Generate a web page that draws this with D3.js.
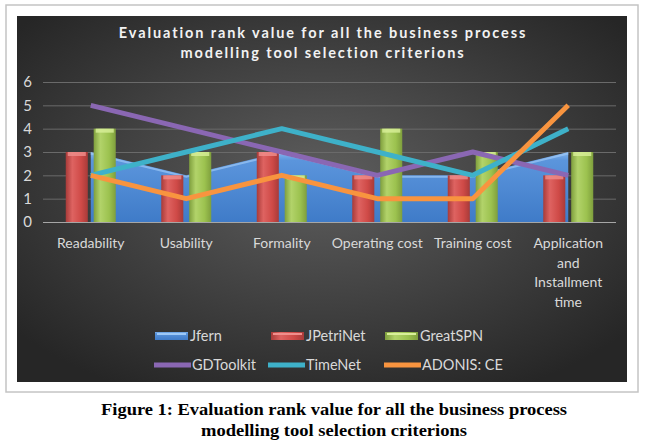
<!DOCTYPE html>
<html>
<head>
<meta charset="utf-8">
<script src="https://cdn.jsdelivr.net/npm/d3@7"></script>
<style>
  body { margin: 0; background: #fff; }
  text { font-family: Lato, "Open Sans", sans-serif; }
</style>
</head>
<body>
<div id="chart"></div>
<script>
// data
var categories = ["Readability", "Usability", "Formality", "Operating cost", "Training cost", "Application and Installment time"];
var jfern     = [3, 2, 3, 2, 2, 3];
var jpetrinet = [3, 2, 3, 2, 2, 2];
var greatspn  = [4, 3, 2, 4, 3, 3];
var gdtoolkit = [5, 4, 3, 2, 3, 2];
var timenet   = [2, 3, 4, 3, 2, 4];
var adonis    = [2, 1, 2, 1, 1, 5];
var yTicks    = [0, 1, 2, 3, 4, 5, 6];

var width = 646, height = 445;
var svg = d3.select("#chart").append("svg").attr("width", width).attr("height", height);
var defs = svg.append("defs");

// background radial
var bg = defs.append("radialGradient").attr("id", "bg")
    .attr("cx", "50%").attr("cy", "45%").attr("r", "65%");
bg.append("stop").attr("offset", "0%").attr("stop-color", "#5e5e5e");
bg.append("stop").attr("offset", "100%").attr("stop-color", "#262626");

function barGrad(id, dark, mid, light) {
    var g = defs.append("linearGradient").attr("id", id).attr("x1", "0").attr("x2", "1").attr("y1", "0").attr("y2", "0");
    g.append("stop").attr("offset", "0%").attr("stop-color", dark);
    g.append("stop").attr("offset", "30%").attr("stop-color", light);
    g.append("stop").attr("offset", "70%").attr("stop-color", mid);
    g.append("stop").attr("offset", "100%").attr("stop-color", dark);
}
barGrad("gRed", "#a83b39", "#cf4a47", "#de6361");
barGrad("gGreen", "#7f9f3d", "#9cc24f", "#b2d36a");

var areaG = defs.append("linearGradient").attr("id", "gBlue").attr("x1", "0").attr("x2", "0").attr("y1", "0").attr("y2", "1");
areaG.append("stop").attr("offset", "0%").attr("stop-color", "#86b8f0");
areaG.append("stop").attr("offset", "12%").attr("stop-color", "#5b95dc");
areaG.append("stop").attr("offset", "100%").attr("stop-color", "#3f7bc8");

// frame + panel
svg.append("rect").attr("x", 6).attr("y", 5).attr("width", 632).attr("height", 387)
    .attr("fill", "#fff").attr("stroke", "#c4c4c4").attr("stroke-width", 1.5);
svg.append("rect").attr("x", 17).attr("y", 16).attr("width", 610).attr("height", 366)
    .attr("fill", "url(#bg)");

// title
var title = svg.append("text").attr("text-anchor", "middle").attr("fill", "#f2f2f2")
    .style("font-weight", "bold").style("font-size", "14.5px").style("letter-spacing", "1.9px");
title.append("tspan").attr("x", 323).attr("y", 38).text("Evaluation rank value for all the business process");
title.append("tspan").attr("x", 323).attr("y", 58).text("modelling tool selection criterions");

// scales
var x = d3.scaleBand().domain(categories).range([43, 616]);
var cx = function(i) { return x(categories[i]) + x.bandwidth() / 2; };
var y = d3.scaleLinear().domain([0, 6]).range([222, 82]);
var inner = d3.scaleBand().domain(["JPetriNet", "GreatSPN"]).range([-25, 25]).paddingInner(0.21);

// grid
var grid = svg.append("g").attr("transform", "translate(43,0)")
    .call(d3.axisLeft(y).tickValues(yTicks).tickSize(-573).tickFormat(""));
grid.select(".domain").remove();
grid.selectAll("line").attr("stroke", function(d) { return d === 0 ? "#a6a6a6" : "#6a6a6a"; })
    .attr("stroke-width", function(d) { return d === 0 ? 1.2 : 1; });

var yAxis = svg.append("g").attr("transform", "translate(32,0)")
    .call(d3.axisLeft(y).tickValues(yTicks).tickFormat(d3.format("d")).tickSize(0).tickPadding(0));
yAxis.select(".domain").remove();
yAxis.selectAll("text").attr("fill", "#d9d9d9").style("font-size", "15px").style("font-family", "Lato, sans-serif");

// Jfern area
var area = d3.area().x(function(d, i) { return cx(i); }).y0(y(0)).y1(function(d) { return y(d); });
svg.append("path").datum(jfern).attr("d", area).attr("fill", "url(#gBlue)");
svg.append("path").datum(jfern).attr("fill", "none")
    .attr("d", d3.line().x(function(d, i) { return cx(i); }).y(function(d) { return y(d) + 1.5; }))
    .attr("stroke", "#9cc8f7").attr("stroke-width", 2).attr("opacity", 0.7);

// bars
var barSeries = [
    { name: "JPetriNet", values: jpetrinet, fill: "url(#gRed)", top: "#f08f8c" },
    { name: "GreatSPN", values: greatspn, fill: "url(#gGreen)", top: "#d9f09a" }
];
barSeries.forEach(function(s) {
    var g = svg.append("g");
    g.selectAll("rect.bar").data(s.values).enter().append("rect").attr("class", "bar")
        .attr("x", function(d, i) { return cx(i) + inner(s.name); })
        .attr("y", function(d) { return y(d); })
        .attr("width", inner.bandwidth())
        .attr("height", function(d) { return y(0) - y(d); })
        .attr("fill", s.fill);
    g.selectAll("rect.cap").data(s.values).enter().append("rect").attr("class", "cap")
        .attr("x", function(d, i) { return cx(i) + inner(s.name) + 2; })
        .attr("y", function(d) { return y(d); })
        .attr("width", inner.bandwidth() - 4)
        .attr("height", 4)
        .attr("fill", s.top).attr("opacity", 0.8);
});

// lines
var lineSeries = [
    { name: "GDToolkit", values: gdtoolkit, color: "#8a67b3" },
    { name: "TimeNet", values: timenet, color: "#3eb1c9" },
    { name: "ADONIS: CE", values: adonis, color: "#f8943f" }
];
var line = d3.line().x(function(d, i) { return cx(i); }).y(function(d) { return y(d); });
lineSeries.forEach(function(s) {
    svg.append("path").datum(s.values).attr("d", line).attr("fill", "none")
        .attr("stroke", s.color).attr("stroke-width", 5).attr("stroke-linejoin", "round");
});

// category labels
var xAxis = svg.append("g").attr("transform", "translate(0,222)")
    .call(d3.axisBottom(x).tickSize(0).tickPadding(0));
xAxis.select(".domain").remove();
xAxis.selectAll("text").attr("fill", "#d9d9d9").style("font-size", "14px")
    .style("font-family", "Lato, sans-serif").attr("y", 26).attr("dy", 0)
    .each(function(d) {
        var t = d3.select(this), words = d.split(" "), lines = [], cur = [];
        words.forEach(function(w) {
            cur.push(w);
            t.text(cur.join(" "));
            if (this.getComputedTextLength() > 92 && cur.length > 1) {
                cur.pop(); lines.push(cur.join(" ")); cur = [w];
            }
        }, this);
        lines.push(cur.join(" "));
        if (lines.length > 1) { lines = words; }
        t.text(null);
        lines.forEach(function(l, k) {
            t.append("tspan").attr("x", 0).attr("dy", k === 0 ? 0 : 19.5).text(l);
        });
    });

// legend
var legendItems = [
    { name: "Jfern", type: "box", fill: "url(#gBlue)", hi: "#9cc8f7", x: 155, y: 336 },
    { name: "JPetriNet", type: "box", fill: "url(#gRed)", hi: "#f08f8c", x: 271, y: 336 },
    { name: "GreatSPN", type: "box", fill: "url(#gGreen)", hi: "#d9f09a", x: 385, y: 336 },
    { name: "GDToolkit", type: "line", color: "#8a67b3", x: 154, y: 365 },
    { name: "TimeNet", type: "line", color: "#3eb1c9", x: 268, y: 365 },
    { name: "ADONIS: CE", type: "line", color: "#f8943f", x: 384, y: 365 }
];
var leg = svg.selectAll("g.leg").data(legendItems).enter().append("g").attr("class", "leg")
    .attr("transform", function(d) { return "translate(" + d.x + "," + d.y + ")"; });
leg.each(function(d) {
    var g = d3.select(this);
    if (d.type === "box") {
        g.append("rect").attr("x", 0).attr("y", -4).attr("width", 33).attr("height", 8).attr("fill", d.fill);
        g.append("rect").attr("x", 2).attr("y", -3).attr("width", 29).attr("height", 2).attr("fill", d.hi);
    } else {
        g.append("line").attr("x1", 0).attr("x2", 37).attr("y1", 0).attr("y2", 0)
            .attr("stroke", d.color).attr("stroke-width", 5);
    }
});
leg.append("text").attr("x", function(d) { return d.type === "box" ? 35 : 38; }).attr("y", 5)
    .attr("fill", "#d9d9d9").style("font-size", "14.5px").text(function(d) { return d.name; });

// caption
var cap = svg.append("text").attr("text-anchor", "middle").attr("fill", "#000")
    .style("font-family", "'Liberation Serif', 'Times New Roman', serif")
    .style("font-weight", "bold").style("font-size", "17px");
cap.append("tspan").attr("x", 334).attr("y", 415).attr("textLength", 466).attr("lengthAdjust", "spacingAndGlyphs")
    .text("Figure 1: Evaluation rank value for all the business process");
cap.append("tspan").attr("x", 334).attr("y", 436).attr("textLength", 266).attr("lengthAdjust", "spacingAndGlyphs")
    .text("modelling tool selection criterions");
</script>
</body>
</html>
